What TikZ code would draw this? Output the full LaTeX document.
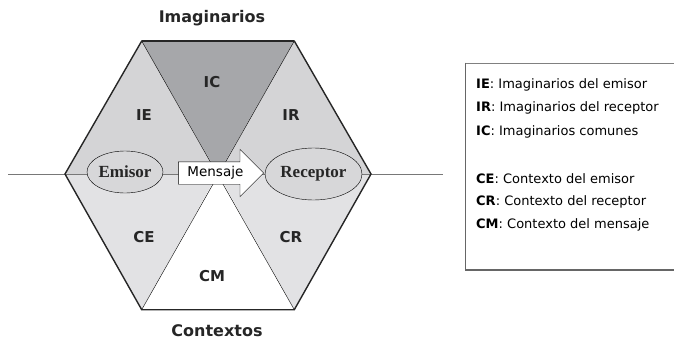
\documentclass[tikz,border=0pt]{standalone}
\usepackage{fontspec}
\setmainfont{DejaVu Sans}
\newfontfamily\serifbold{Liberation Serif}
\usetikzlibrary{shapes.arrows, shapes.geometric}

\definecolor{upgray}{RGB}{212,212,214}
\definecolor{lowgray}{RGB}{226,226,228}
\definecolor{icgray}{RGB}{166,167,170}
\definecolor{linegray}{RGB}{120,120,120}

\tikzset{
    zone/.style={font=\fontsize{15}{15}\selectfont\bfseries, text=black!85},
    title/.style={font=\fontsize{16}{16}\selectfont\bfseries, text=black!85},
    actor/.style={ellipse, draw, thin, fill=upgray!80!lowgray, inner sep=0pt,
        font=\serifbold\fontsize{17}{17}\selectfont\bfseries, text=black!85},
    legend/.style={anchor=west, font=\fontsize{13}{13}\selectfont, inner sep=0pt}
}

\begin{document}
\begin{tikzpicture}[x=1pt, y=1pt]
    \useasboundingbox (0, 0) rectangle (674, 341);

    \coordinate (tl) at (141.7, 300);
    \coordinate (tr) at (294.3, 300);
    \coordinate (r) at (371, 167);
    \coordinate (br) at (294.3, 31.3);
    \coordinate (bl) at (141.7, 31.3);
    \coordinate (l) at (65, 167);
    \coordinate (o) at (218, 167);

    \fill[upgray] (l) -- (tl) -- (o) -- cycle;
    \fill[upgray] (tr) -- (r) -- (o) -- cycle;
    \fill[lowgray] (l) -- (bl) -- (o) -- cycle;
    \fill[lowgray] (br) -- (r) -- (o) -- cycle;
    \fill[icgray] (tl) -- (tr) -- (o) -- cycle;
    \fill[white] (bl) -- (br) -- (o) -- cycle;

    \draw[thin] (tl) -- (br);
    \draw[thin] (tr) -- (bl);

    \coordinate (lineA) at (8, 167);
    \coordinate (lineB) at (443, 167);
    \draw[linegray, line width=0.9pt] (lineA) -- (lineB);

    \draw[line width=1.4pt, black!85, line join=miter] (l) -- (tl) -- (tr) -- (r) -- (br) -- (bl) -- cycle;
    \draw[line width=2.2pt, black!85] (tl) -- (tr);

    \node[actor, minimum width=76pt, minimum height=42pt] (emisor) at (125, 169) {Emisor};
    \node[actor, minimum width=97pt, minimum height=52pt] (receptor) at (313.5, 167) {Receptor};

    \node[single arrow, draw, thin, fill=white, minimum height=85.3pt,
        single arrow head extend=12.5pt, inner xsep=4pt, inner ysep=5pt,
        text height=9.5pt, text depth=2.5pt,
        font=\fontsize{13.5}{13.5}\selectfont] (mensaje) at (215.4, 168) {Mensaje};

    \node[zone] (ic) at (212, 259) {IC};
    \node[zone] (ie) at (144, 226) {IE};
    \node[zone] (ir) at (291, 226) {IR};
    \node[zone] (ce) at (144, 104) {CE};
    \node[zone] (cr) at (291, 104) {CR};
    \node[zone] (cm) at (212, 65) {CM};

    \node[title] (imag) at (212, 323) {Imaginarios};
    \node[title] (ctx) at (217, 10) {Contextos};

    % legend
    \draw[black!50, thin] (465.7, 278.3) -- (700, 278.3);
    \draw[black!60, line width=1.3pt] (465.7, 278.3) -- (465.7, 71) -- (700, 71);

    \node[legend] (kie) at (476, 256) {\textbf{IE}: Imaginarios del emisor};
    \node[legend] (kir) at (476, 232.7) {\textbf{IR}: Imaginarios del receptor};
    \node[legend] (kic) at (476, 209.3) {\textbf{IC}: Imaginarios comunes};
    \node[legend] (kce) at (476, 162.7) {\textbf{CE}: Contexto del emisor};
    \node[legend] (kcr) at (476, 139.3) {\textbf{CR}: Contexto del receptor};
    \node[legend] (kcm) at (476, 116) {\textbf{CM}: Contexto del mensaje};
\end{tikzpicture}
\end{document}
